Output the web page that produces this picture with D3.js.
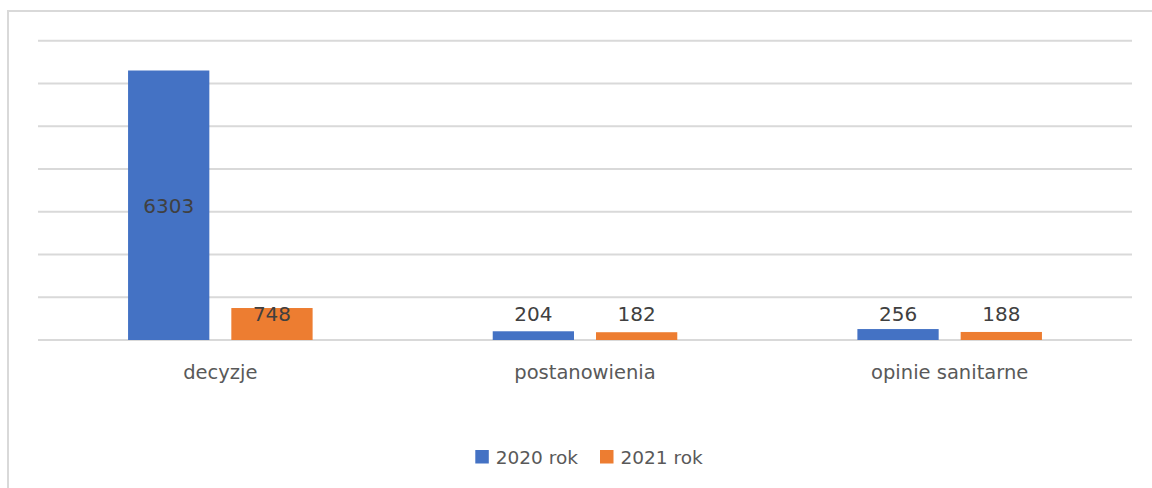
<!DOCTYPE html>
<html>
<head>
<meta charset="utf-8">
<script src="https://cdn.jsdelivr.net/npm/d3@7"></script>
<style>
  html, body { margin: 0; padding: 0; background: #fff; }
  svg { display: block; }
</style>
</head>
<body>
<svg id="chart" width="1152" height="488"></svg>
<script>
const categories = ["decyzje", "postanowienia", "opinie sanitarne"];
const seriesNames = ["2020 rok", "2021 rok"];
const values2020 = [6303, 204, 256];
const values2021 = [748, 182, 188];
const yTicks = [0, 1000, 2000, 3000, 4000, 5000, 6000, 7000];
const colors = ["#4472C4", "#ED7D31"];

(function () {
const seriesValues = [values2020, values2021];
const svg = d3.select("#chart");
const font = "'DejaVu Sans', sans-serif";

// outer frame
svg.append("rect")
  .attr("x", 8).attr("y", 11)
  .attr("width", 1200).attr("height", 500)
  .attr("fill", "#fff")
  .attr("stroke", "#d9d9d9").attr("stroke-width", 2);

const mLeft = 38, mRight = 1132, mTop = 40.7, mBottom = 340;

const y = d3.scaleLinear().domain([0, 7000]).range([mBottom, mTop]);
const x0 = d3.scaleBand().domain(categories).range([mLeft, mRight]).padding(0);
const x1 = d3.scaleBand().domain(seriesNames).range([0, x0.bandwidth()])
  .paddingInner(0.213).paddingOuter(0.872);

// gridlines
svg.append("g").selectAll("line").data(yTicks).join("line")
  .attr("x1", mLeft).attr("x2", mRight)
  .attr("y1", d => y(d)).attr("y2", d => y(d))
  .attr("stroke", "#d9d9d9").attr("stroke-width", 2);

// bars
const groups = svg.append("g").selectAll("g").data(categories).join("g")
  .attr("transform", d => `translate(${x0(d)},0)`);

const barData = (c, i) => seriesNames.map((s, si) => ({ s, si, v: seriesValues[si][i] }));

groups.selectAll("rect").data(barData).join("rect")
  .attr("x", d => x1(d.s))
  .attr("y", d => y(d.v))
  .attr("width", x1.bandwidth())
  .attr("height", d => y(0) - y(d.v))
  .attr("fill", d => colors[d.si]);

// value labels
groups.selectAll("text").data(barData).join("text")
  .attr("x", d => x1(d.s) + x1.bandwidth() / 2)
  .attr("y", d => (y(0) - y(d.v)) > 100 ? (y(d.v) + y(0)) / 2 + 7.4 : y(0) - 19.5)
  .attr("text-anchor", "middle")
  .attr("font-family", font).attr("font-size", 20)
  .attr("fill", "#404040")
  .text(d => d.v);

// category axis labels
svg.append("g").selectAll("text").data(categories).join("text")
  .attr("x", d => x0(d) + x0.bandwidth() / 2)
  .attr("y", y(0) + 39)
  .attr("text-anchor", "middle")
  .attr("font-family", font).attr("font-size", 19.5)
  .attr("fill", "#595959")
  .text(d => d);

// legend
const legend = svg.append("g");
let cx = 0;
seriesNames.forEach((s, i) => {
  const g = legend.append("g");
  g.append("rect").attr("x", 0).attr("y", 450).attr("width", 13.5).attr("height", 13.5).attr("fill", colors[i]);
  const t = g.append("text").attr("x", 20.5).attr("y", 464)
    .attr("font-family", font).attr("font-size", 18.5)
    .attr("fill", "#595959").text(s);
  const w = 20.5 + t.node().getComputedTextLength();
  g.attr("transform", `translate(${cx},0)`);
  cx += w + 22;
});
const total = cx - 22;
legend.attr("transform", `translate(${589 - total / 2},0)`);
})();
</script>
</body>
</html>
